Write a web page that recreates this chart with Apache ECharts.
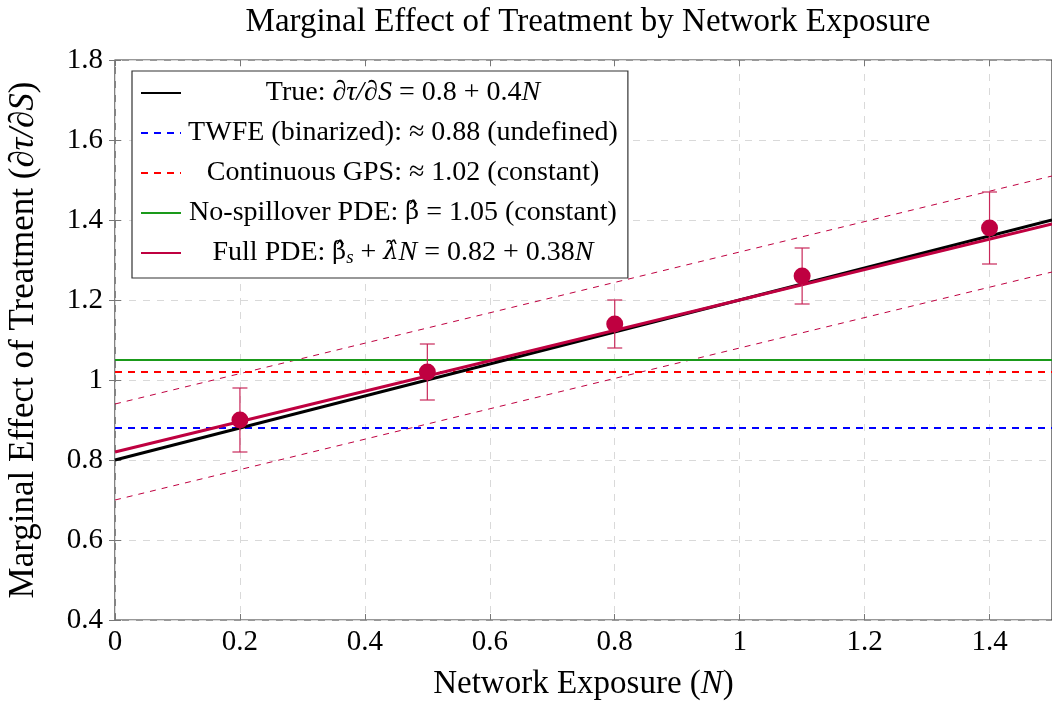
<!DOCTYPE html>
<html>
<head>
<meta charset="utf-8">
<script src="https://cdn.jsdelivr.net/npm/echarts@6/dist/echarts.min.js"></script>
<style>
  html, body { margin: 0; padding: 0; background: #fff; }
  #chart { width: 1052px; height: 711px; }
</style>
</head>
<body>
<div id="chart"></div>
<script>
// estimated points with 95% intervals
var xPoints = [0.2, 0.5, 0.8, 1.1, 1.4];
var estimates = [0.90, 1.02, 1.14, 1.26, 1.38];
var ciLower = [0.82, 0.95, 1.08, 1.19, 1.29];
var ciUpper = [0.98, 1.09, 1.20, 1.33, 1.47];

// lines are drawn between the two ends of the N range
var lineX = [0, 1.5];
var trueLine = [0.80, 1.40];
var twfeLine = [0.88, 0.88];
var gpsLine = [1.02, 1.02];
var noSpillLine = [1.05, 1.05];
var fullPdeLine = [0.82, 1.39];
var bandUpper = [0.94, 1.51];
var bandLower = [0.70, 1.27];

var seriesNames = ['True', 'TWFE', 'GPS', 'NoSpill', 'FullPDE'];
var legendLabels = [
    '{n|True: }{i|∂τ/∂S}{n| = 0.8 + 0.4}{i|N}',
    '{n|TWFE (binarized): ≈ 0.88 (undefined)}',
    '{n|Continuous GPS: ≈ 1.02 (constant)}',
    '{n|No-spillover PDE: }{b|β̂}{n| = 1.05 (constant)}',
    '{n|Full PDE: }{b|β̂}{s|s}{n| + }{h|λ̂}{i|N}{n| = 0.82 + 0.38}{i|N}'
];

var purple = '#BF0040';
var font = 'Liberation Serif';

function pairs(ys) {
    return lineX.map(function (x, i) { return [x, ys[i]]; });
}

var chart = echarts.init(document.getElementById('chart'));

var gridLine = {
    show: true,
    lineStyle: { color: '#d9d9d9', type: [7, 7], width: 1 }
};
var tick = { show: true, inside: true, length: 6, lineStyle: { color: '#777' } };

chart.setOption({
    animation: false,
    title: {
        text: 'Marginal Effect of Treatment by Network Exposure',
        left: 583,
        textAlign: 'center',
        top: 1,
        textStyle: { fontFamily: font, fontWeight: 'normal', fontSize: 33, color: '#000' }
    },
    grid: {
        left: 115,
        right: 0,
        top: 60,
        bottom: 91,
        outerBoundsMode: 'none',
        show: true,
        borderColor: '#333',
        borderWidth: 1.2
    },
    legend: {
        orient: 'vertical',
        left: 132,
        top: 71,
        padding: [8, 10, 11, 8],
        itemGap: 12,
        itemWidth: 40,
        itemHeight: 14,
        backgroundColor: '#fff',
        borderColor: '#333',
        borderWidth: 1.2,
        itemStyle: { opacity: 0 },
        data: seriesNames,
        formatter: function (name) {
            return legendLabels[seriesNames.indexOf(name)];
        },
        textStyle: {
            width: 434,
            rich: {
                n: { fontFamily: font, fontSize: 28, color: '#000', align: 'center', lineHeight: 28 },
                i: { fontFamily: font, fontSize: 28, fontStyle: 'italic', color: '#000', align: 'center', lineHeight: 28 },
                h: { fontFamily: 'DejaVu Serif', fontSize: 24, fontStyle: 'italic', color: '#000', align: 'center', lineHeight: 28 },
                b: { fontFamily: 'DejaVu Serif', fontSize: 24, color: '#000', align: 'center', lineHeight: 28 },
                s: { fontFamily: font, fontSize: 19, fontStyle: 'italic', color: '#000', align: 'center', verticalAlign: 'bottom', lineHeight: 28 }
            }
        }
    },
    xAxis: [{
        type: 'value',
        min: 0,
        max: 1.5,
        interval: 0.2,
        name: 'Network Exposure ({i|N})',
        nameLocation: 'middle',
        nameGap: 48,
        nameTextStyle: {
            fontFamily: font, fontSize: 33, color: '#000',
            rich: { i: { fontFamily: font, fontSize: 33, fontStyle: 'italic', color: '#000' } }
        },
        axisLine: { show: false },
        axisTick: tick,
        axisLabel: { showMaxLabel: false, margin: 8, fontFamily: font, fontSize: 29, color: '#000' },
        splitLine: gridLine
    }, {
        type: 'value',
        position: 'top',
        min: 0,
        max: 1.5,
        interval: 0.2,
        axisLine: { show: false },
        axisTick: tick,
        axisLabel: { show: false },
        splitLine: { show: false }
    }],
    yAxis: [{
        type: 'value',
        min: 0.4,
        max: 1.8,
        interval: 0.2,
        name: 'Marginal Effect of Treatment ({i|∂τ/∂S})',
        nameLocation: 'middle',
        nameRotate: 90,
        nameGap: 74,
        nameTextStyle: {
            fontFamily: font, fontSize: 35, color: '#000',
            rich: { i: { fontFamily: font, fontSize: 35, fontStyle: 'italic', color: '#000' } }
        },
        axisLine: { show: false },
        axisTick: tick,
        axisLabel: { margin: 12, fontFamily: font, fontSize: 29, color: '#000' },
        splitLine: gridLine
    }, {
        type: 'value',
        position: 'right',
        min: 0.4,
        max: 1.8,
        interval: 0.2,
        axisLine: { show: false },
        axisTick: tick,
        axisLabel: { show: false },
        splitLine: { show: false }
    }],
    series: [
        {
            name: 'BandUpper',
            type: 'line',
            data: pairs(bandUpper),
            symbol: 'none',
            lineStyle: { color: purple, width: 1, type: [6, 6] },
            z: 2
        },
        {
            name: 'BandLower',
            type: 'line',
            data: pairs(bandLower),
            symbol: 'none',
            lineStyle: { color: purple, width: 1, type: [6, 6] },
            z: 2
        },
        {
            name: 'TWFE',
            type: 'line',
            data: pairs(twfeLine),
            symbol: 'none',
            lineStyle: { color: '#0000ff', width: 2, type: [7, 6] },
            itemStyle: { color: '#0000ff' },
            z: 3
        },
        {
            name: 'GPS',
            type: 'line',
            data: pairs(gpsLine),
            symbol: 'none',
            lineStyle: { color: '#ff0000', width: 2, type: [7, 6] },
            itemStyle: { color: '#ff0000' },
            z: 3
        },
        {
            name: 'NoSpill',
            type: 'line',
            data: pairs(noSpillLine),
            symbol: 'none',
            lineStyle: { color: '#1a9a1a', width: 2 },
            itemStyle: { color: '#1a9a1a' },
            z: 3
        },
        {
            name: 'True',
            type: 'line',
            data: pairs(trueLine),
            symbol: 'none',
            lineStyle: { color: '#000', width: 3 },
            itemStyle: { color: '#000' },
            z: 4
        },
        {
            name: 'FullPDE',
            type: 'line',
            data: pairs(fullPdeLine),
            symbol: 'none',
            lineStyle: { color: purple, width: 3 },
            itemStyle: { color: purple },
            z: 5
        },
        {
            name: 'CI',
            type: 'custom',
            data: xPoints.map(function (x, i) { return [x, ciLower[i], ciUpper[i]]; }),
            encode: { x: 0, y: [1, 2] },
            renderItem: function (params, api) {
                var lo = api.coord([api.value(0), api.value(1)]);
                var hi = api.coord([api.value(0), api.value(2)]);
                var cap = 7.5;
                var style = { stroke: '#c8285a', lineWidth: 1.2 };
                return {
                    type: 'group',
                    children: [
                        { type: 'line', shape: { x1: lo[0], y1: lo[1], x2: hi[0], y2: hi[1] }, style: style },
                        { type: 'line', shape: { x1: lo[0] - cap, y1: lo[1], x2: lo[0] + cap, y2: lo[1] }, style: style },
                        { type: 'line', shape: { x1: hi[0] - cap, y1: hi[1], x2: hi[0] + cap, y2: hi[1] }, style: style }
                    ]
                };
            },
            z: 6
        },
        {
            name: 'Estimates',
            type: 'scatter',
            data: xPoints.map(function (x, i) { return [x, estimates[i]]; }),
            symbol: 'circle',
            symbolSize: 17,
            itemStyle: { color: purple, opacity: 1 },
            z: 7
        }
    ]
});
</script>
</body>
</html>
